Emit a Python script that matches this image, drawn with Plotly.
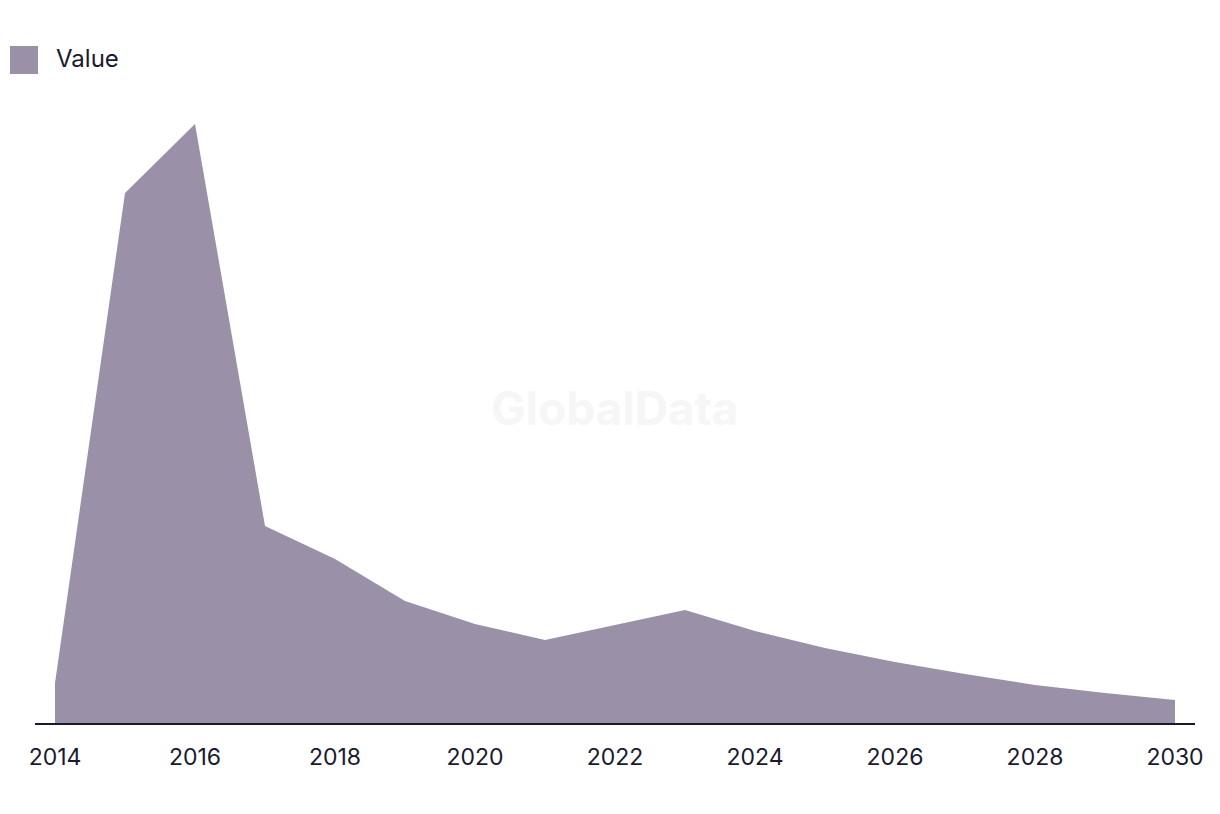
import plotly.graph_objects as go

# Values (arbitrary units, no y-axis shown)
years = list(range(2014, 2031))
values = [40, 530, 599, 197, 164, 122, 99, 83, 98, 113, 92, 75, 61, 49, 38, 30, 23]
tick_years = list(range(2014, 2031, 2))

fill_color = "#9a90a8"
ink = "#1a1a2e"

fig = go.Figure()

fig.add_trace(go.Scatter(
    x=years,
    y=values,
    mode="lines",
    fill="tozeroy",
    line=dict(color=fill_color, width=0),
    fillcolor=fill_color,
    name="Value",
    showlegend=False,
    hovertemplate="%{x}: %{y}<extra></extra>"
))

# Legend drawn by hand so the swatch matches the reference size
fig.add_shape(type="rect", xref="paper", yref="paper",
              x0=-25 / 1160, x1=3 / 1160, y0=(723 - 74) / 600, y1=(723 - 46) / 600,
              fillcolor=fill_color, line_width=0)
fig.add_annotation(text="Value", xref="paper", yref="paper",
                   x=19 / 1160, y=(723 - 59) / 600, xanchor="left", yanchor="middle",
                   showarrow=False, font=dict(size=24, color=ink))

# Watermark
fig.add_annotation(text="<b>GlobalData</b>", xref="paper", yref="paper",
                   x=0.5, y=(723 - 408) / 600, showarrow=False,
                   font=dict(size=46, color="#f6f6f6"))

fig.update_layout(
    width=1220, height=814,
    paper_bgcolor="white", plot_bgcolor="white",
    font=dict(family="Inter, Liberation Sans, sans-serif", color=ink),
    margin=dict(l=27, r=33, t=115, b=99),
    xaxis=dict(
        range=[2014 - 20 / 70, 2030 + 20 / 70],
        tickvals=tick_years,
        ticktext=[str(y) for y in tick_years],
        tickfont=dict(size=23, color=ink),
        ticks="outside", ticklen=12, tickcolor="rgba(0,0,0,0)",
        showgrid=False, zeroline=False,
        showline=True, linecolor=ink, linewidth=2,
    ),
    yaxis=dict(
        range=[0, 600],
        showgrid=False, zeroline=False, showticklabels=False, showline=False,
    ),
)

fig.write_html("out.html")
